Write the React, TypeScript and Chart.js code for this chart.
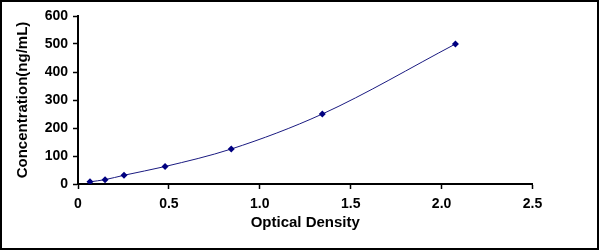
import React, { useEffect, useRef } from "react";
import { Chart, registerables } from "chart.js";

Chart.register(...registerables);

// Optical density (x) vs concentration (y) standard curve
const opticalDensity = [0.066, 0.149, 0.253, 0.479, 0.843, 1.344, 2.076];
const concentration = [7.8, 15.6, 31.25, 62.5, 125, 250, 500];

const xTitle = "Optical Density";
const yTitle = "Concentration(ng/mL)";

const FONT = "'Liberation Sans', Arial, sans-serif";
const NAVY = "#000080";
const LINE = "#1a1a80";

const framePlugin = {
  id: "frame",
  afterDraw(chart: any) {
    const ctx = chart.ctx;
    ctx.save();
    ctx.strokeStyle = "#000";
    ctx.lineWidth = 2;
    ctx.strokeRect(1, 1, 597, 248);
    ctx.restore();
  },
};

export default function App() {
  const ref = useRef<HTMLCanvasElement | null>(null);

  useEffect(() => {
    document.body.style.margin = "0";
    const canvas = ref.current;
    if (!canvas) return;
    const chart = new Chart(canvas, {
      type: "scatter",
      data: {
        datasets: [
          {
            data: opticalDensity.map((x, i) => ({ x, y: concentration[i] })),
            showLine: true,
            borderColor: LINE,
            borderWidth: 1,
            backgroundColor: NAVY,
            pointBackgroundColor: NAVY,
            pointBorderColor: NAVY,
            pointStyle: "rectRot",
            pointRadius: 3.5,
            pointBorderWidth: 0,
            cubicInterpolationMode: "monotone",
          } as any,
        ],
      },
      options: {
        responsive: false,
        animation: false,
        devicePixelRatio: 1,
        layout: { padding: { top: 16, right: 67.5, left: 0, bottom: 0 } },
        plugins: {
          legend: { display: false },
          tooltip: { enabled: false },
        },
        scales: {
          x: {
            type: "linear",
            min: 0,
            max: 2.5,
            afterFit: (s: any) => {
              s.height = 68;
            },
            ticks: {
              stepSize: 0.5,
              color: "#000",
              font: { family: FONT, size: 14, weight: "bold" },
              padding: 7,
              maxRotation: 0,
            },
            grid: {
              drawOnChartArea: false,
              drawTicks: true,
              tickLength: 5,
              tickColor: "#000",
              tickWidth: 1.5,
            },
            border: { color: "#000", width: 2 },
            title: {
              display: true,
              text: xTitle,
              color: "#000",
              font: { family: FONT, size: 15, weight: "bold" },
              padding: { top: 0, bottom: 20 },
            },
          },
          y: {
            type: "linear",
            min: 0,
            max: 600,
            afterFit: (s: any) => {
              s.width = 78;
            },
            ticks: {
              stepSize: 100,
              color: "#000",
              font: { family: FONT, size: 14, weight: "bold" },
              padding: 5,
            },
            grid: {
              drawOnChartArea: false,
              drawTicks: true,
              tickLength: 5,
              tickColor: "#000",
              tickWidth: 1.5,
            },
            border: { color: "#000", width: 2 },
            title: {
              display: true,
              text: yTitle,
              color: "#000",
              font: { family: FONT, size: 15, weight: "bold" },
              padding: { top: 14, bottom: 0 },
            },
          },
        },
      },
      plugins: [framePlugin],
    });
    return () => chart.destroy();
  }, []);

  return (
    <div style={{ width: 600, height: 252, position: "relative", background: "#fff" }}>
      <canvas ref={ref} width={600} height={252} style={{ display: "block" }} />
    </div>
  );
}
